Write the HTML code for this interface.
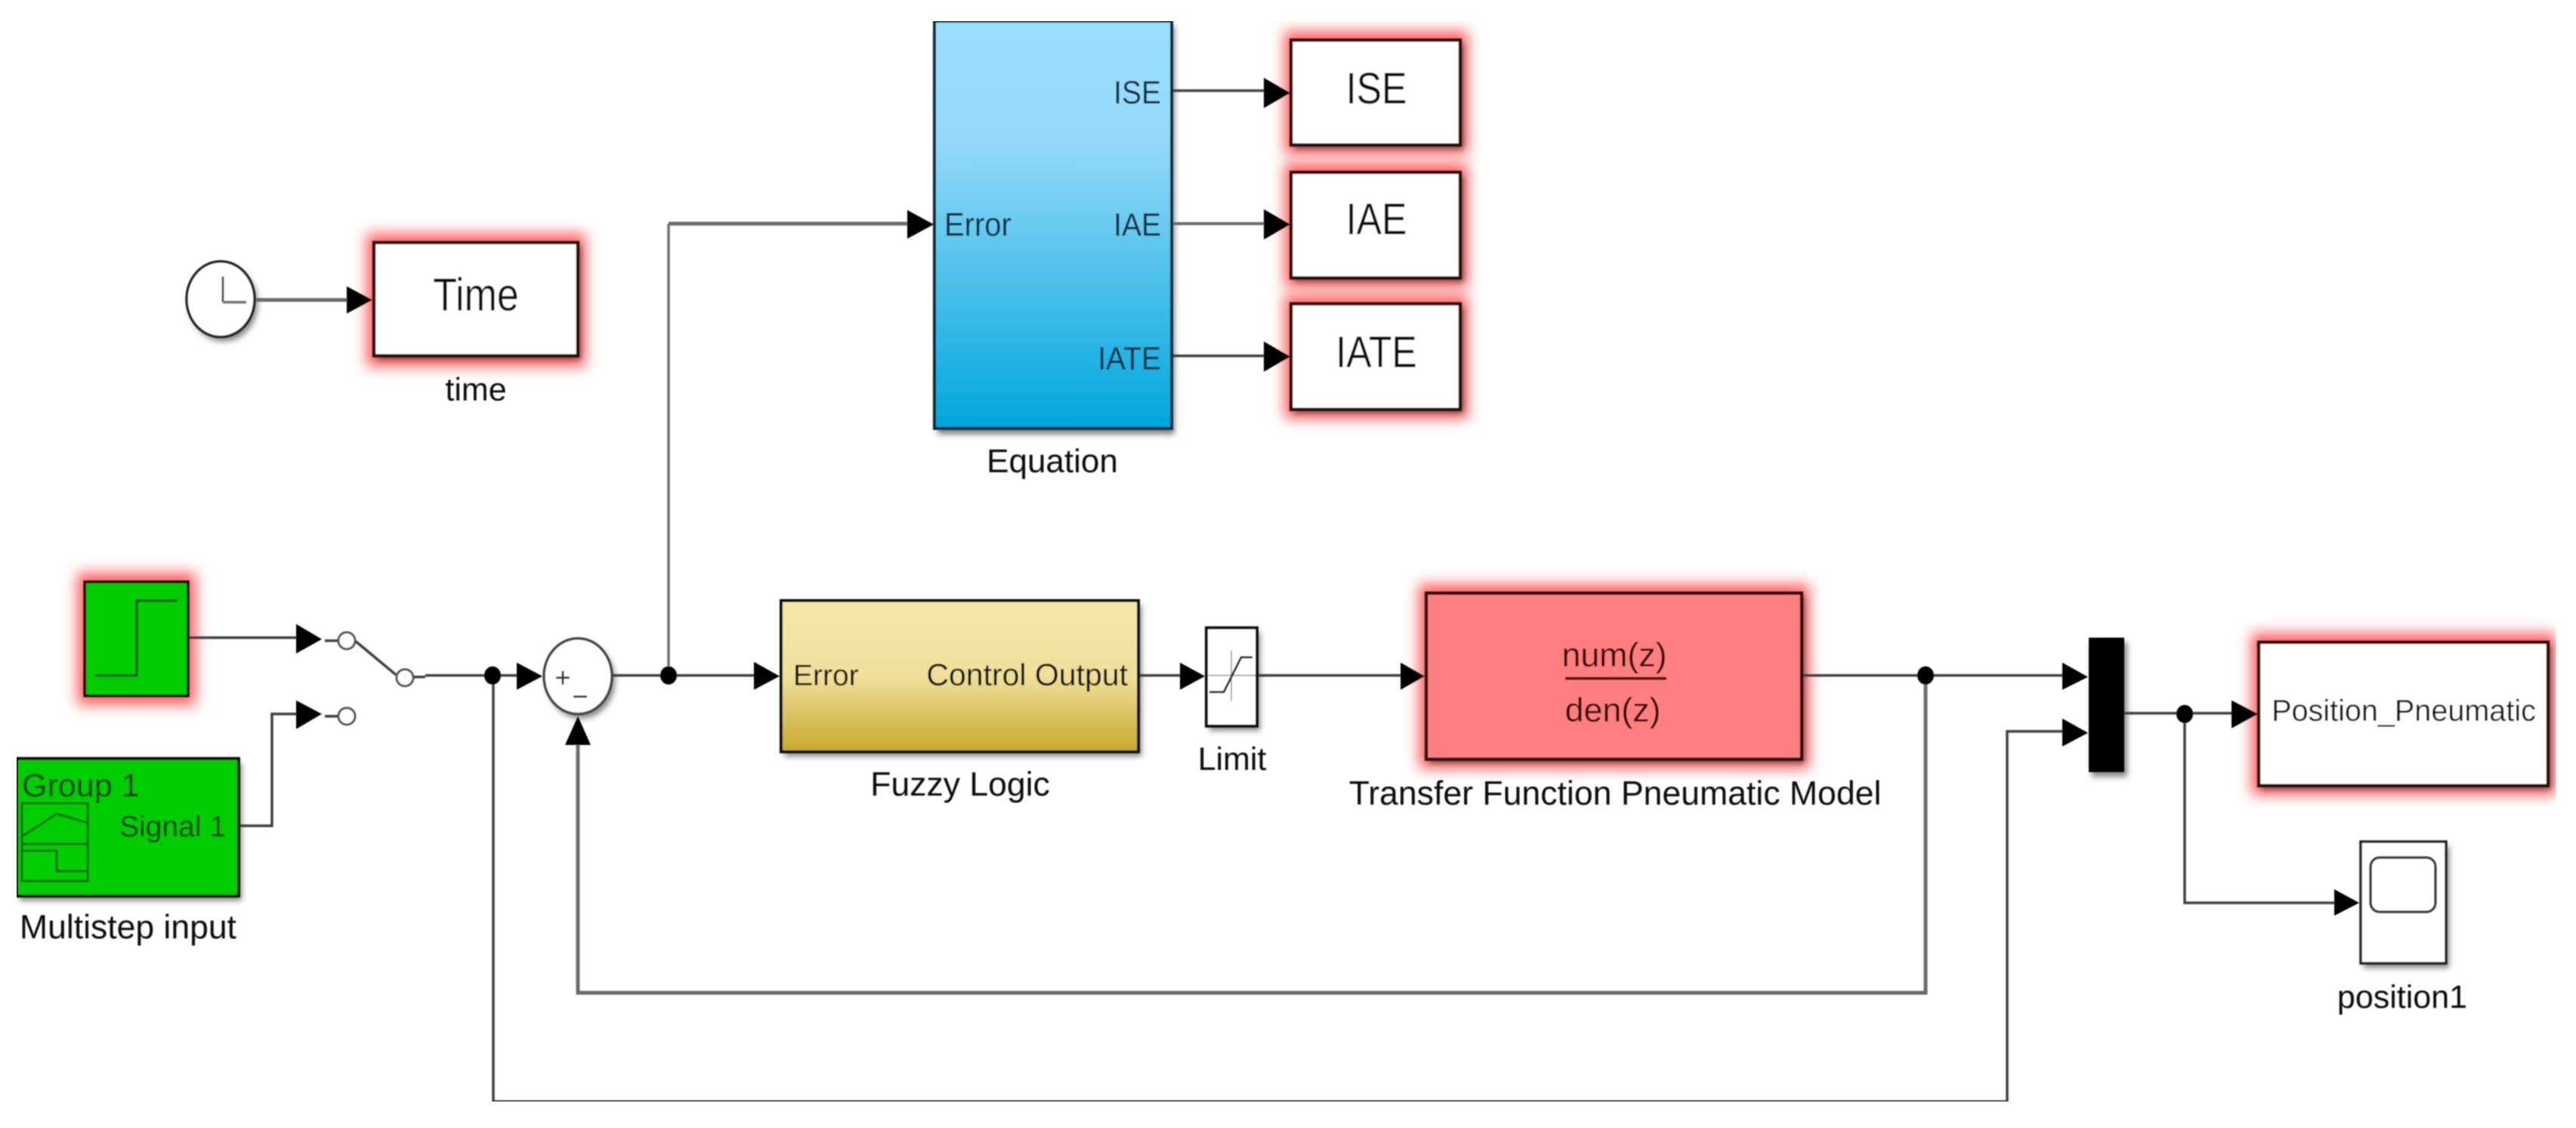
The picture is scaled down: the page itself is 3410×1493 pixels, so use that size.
<!DOCTYPE html>
<html>
<head>
<meta charset="utf-8">
<style>
html,body{margin:0;padding:0;background:#fff;width:3410px;height:1493px;overflow:hidden}
svg{display:block}
text{font-family:"Liberation Sans",sans-serif;fill:#0c0c0c}
.l{fill:none;stroke:#404040;stroke-width:3.5}
.t{fill:none;stroke:#6c6c6c;stroke-width:5}
.k{fill:#000;stroke:none}
.g{fill:#ff5f5f;filter:url(#glow)}
.s{fill:#333;opacity:.6;filter:url(#shadow)}
.b{stroke:#111;stroke-width:4}
.r{stroke:#2a0808;stroke-width:4.5}
.c{fill:#fff;stroke:#555;stroke-width:3}
</style>
</head>
<body>
<svg width="3410" height="1493" viewBox="0 0 3410 1493" xmlns="http://www.w3.org/2000/svg">
<defs>
<filter id="glow" x="-30%" y="-30%" width="160%" height="160%"><feGaussianBlur stdDeviation="9"/></filter>
<filter id="shadow" x="-30%" y="-30%" width="160%" height="160%"><feGaussianBlur stdDeviation="4"/></filter>
<filter id="soft" x="0" y="0" width="100%" height="100%"><feGaussianBlur stdDeviation="0.8"/></filter>
<linearGradient id="blue" x1="0" y1="0" x2="0" y2="1"><stop offset="0" stop-color="#9be0ff"/><stop offset=".3" stop-color="#93d8f8"/><stop offset="1" stop-color="#00a6dc"/></linearGradient>
<linearGradient id="gold" x1="0" y1="0" x2="0" y2="1"><stop offset="0" stop-color="#f5e8aa"/><stop offset=".5" stop-color="#efdf9a"/><stop offset="1" stop-color="#c8a82c"/></linearGradient>
</defs>
<rect width="3410" height="1493" fill="#fff"/>
<g filter="url(#soft)">

<!-- glows and shadows -->
<rect class="g" x="102" y="758" width="157" height="175"/>
<rect class="g" x="485" y="309" width="290" height="176"/>
<rect class="g" x="1700" y="41" width="243" height="163"/>
<rect class="g" x="1700" y="216" width="243" height="164"/>
<rect class="g" x="1700" y="390" width="243" height="164"/>
<rect class="g" x="1878" y="773" width="517" height="244"/>
<rect class="g" x="2980" y="838" width="403" height="214"/>
<rect class="s" x="26" y="1010" width="294" height="182"/>
<rect class="s" x="1241" y="34" width="314" height="541"/>
<rect class="s" x="1038" y="801" width="473" height="200"/>
<rect class="s" x="1601" y="837" width="67" height="130"/>
<rect class="s" x="2769" y="850" width="47" height="178"/>
<rect class="s" x="3129" y="1120" width="113" height="161"/>
<rect class="s" x="1714" y="58" width="224" height="139"/>
<rect class="s" x="1714" y="233" width="224" height="140"/>
<rect class="s" x="1714" y="407" width="224" height="140"/>
<rect class="s" x="499" y="326" width="270" height="150"/>
<rect class="s" x="1892" y="790" width="497" height="220"/>
<rect class="s" x="2994" y="855" width="383" height="190"/>
<ellipse class="s" cx="769" cy="901" rx="45" ry="50"/>
<ellipse class="s" cx="296" cy="402" rx="45" ry="50"/>

<!-- connectors -->
<path class="l" d="M249 844H395"/>
<path class="l" d="M430 848H448"/>
<path class="l" d="M471 849L524 893"/>
<path class="l" d="M548 896H563"/>
<path class="l" d="M430 948H448"/>
<path class="l" d="M563 894H686"/>
<path class="l" d="M317 1093H360V945H395"/>
<path class="l" d="M653 894V1458H2657V968H2733"/>
<path class="t" d="M765 985V1314H2549V894"/>
<path class="l" d="M810 894H1000"/>
<path class="l" style="stroke:#707070" d="M885 894V296"/>
<path class="t" d="M885 296H1204"/>
<path class="t" d="M339 397H462"/>
<path class="l" d="M1552 120H1677"/>
<path class="t" style="stroke-width:4" d="M1552 296H1677"/>
<path class="l" d="M1552 471H1677"/>
<path class="l" d="M1507 894H1565"/>
<path class="l" d="M1664 894H1857"/>
<path class="l" d="M2385 894H2733"/>
<path class="l" d="M2812 944H2957"/>
<path class="l" d="M2892 945V1195H3093"/>

<!-- arrowheads -->
<path class="k" d="M392 826L426 846L392 865Z"/>
<path class="k" d="M392 927L426 945L392 965Z"/>
<path class="k" d="M684 877L718 895L684 913Z"/>
<path class="k" d="M748 986L765 948L782 986Z"/>
<path class="k" d="M998 876L1032 895L998 913Z"/>
<path class="k" d="M1201 278L1236 297L1201 316Z"/>
<path class="k" d="M459 379L493 397L459 415Z"/>
<path class="k" d="M1673 103L1708 123L1673 143Z"/>
<path class="k" d="M1673 277L1708 297L1673 317Z"/>
<path class="k" d="M1673 452L1708 472L1673 492Z"/>
<path class="k" d="M1562 877L1595 895L1562 913Z"/>
<path class="k" d="M1854 877L1886 895L1854 913Z"/>
<path class="k" d="M2730 877L2764 896L2730 913Z"/>
<path class="k" d="M2730 951L2764 970L2730 988Z"/>
<path class="k" d="M2954 927L2989 945L2954 964Z"/>
<path class="k" d="M3090 1177L3123 1195L3090 1212Z"/>

<!-- dots -->
<ellipse class="k" cx="652" cy="894" rx="11" ry="12"/>
<ellipse class="k" cx="885" cy="894" rx="11" ry="12"/>
<ellipse class="k" cx="2549" cy="894" rx="11" ry="12"/>
<ellipse class="k" cx="2892" cy="945" rx="11" ry="12"/>

<!-- switch -->
<circle class="c" cx="459" cy="848" r="11"/>
<circle class="c" cx="536" cy="897" r="11"/>
<circle class="c" cx="459" cy="948" r="11"/>

<!-- step -->
<rect class="b" x="112" y="770" width="137" height="151" fill="#00cc00"/>
<path d="M126 894H181V795H235" fill="none" stroke="#0a4a0a" stroke-width="3"/>

<!-- signal builder -->
<rect class="b" x="22" y="1004" width="294" height="182" fill="#00cc00"/>
<rect x="29" y="1063" width="87" height="103" fill="none" stroke="#0a5a0a" stroke-width="2.5"/>
<path d="M29 1117H116M29 1107L75 1077L116 1089M29 1126H75V1153H116" fill="none" stroke="#0a5a0a" stroke-width="2.5"/>
<text x="29" y="1054" font-size="43" style="fill:#044004">Group 1</text>
<text x="158" y="1107" font-size="39" style="fill:#044004">Signal 1</text>
<text x="26" y="1242" font-size="44.5">Multistep input</text>

<!-- sum -->
<ellipse cx="765" cy="895" rx="45" ry="50" fill="#fff" stroke="#444" stroke-width="3.5"/>
<path d="M736 897H754M745 888V906M759 922H777" fill="none" stroke="#333" stroke-width="3"/>

<!-- clock -->
<ellipse cx="292" cy="396" rx="45" ry="50" fill="#fff" stroke="#222" stroke-width="3.5"/>
<path d="M295 366V400" fill="none" stroke="#444" stroke-width="3"/>
<path d="M295 400H326" fill="none" stroke="#777" stroke-width="4"/>

<!-- time -->
<rect class="r" x="495" y="321" width="270" height="150" fill="#fff"/>
<text transform="translate(630 411) scale(1 1.17)" font-size="52" text-anchor="middle">Time</text>
<text x="630" y="530" font-size="43" text-anchor="middle">time</text>

<!-- equation -->
<rect x="1237" y="28" width="314" height="539" fill="url(#blue)" stroke="#0d2a3a" stroke-width="4"/>
<text transform="translate(1250 312) scale(1 1.09)" font-size="40" style="fill:#0a2a40">Error</text>
<text transform="translate(1537 137) scale(1 1.09)" font-size="39" text-anchor="end" style="fill:#0a2a40">ISE</text>
<text transform="translate(1537 312) scale(1 1.09)" font-size="39" text-anchor="end" style="fill:#0a2a40">IAE</text>
<text transform="translate(1537 489) scale(1 1.09)" font-size="39" text-anchor="end" style="fill:#0a2a40">IATE</text>
<text x="1393" y="625" font-size="44" text-anchor="middle">Equation</text>

<!-- outputs -->
<rect class="r" x="1709" y="53" width="224" height="139" fill="#fff"/>
<rect class="r" x="1709" y="228" width="224" height="140" fill="#fff"/>
<rect class="r" x="1709" y="402" width="224" height="140" fill="#fff"/>
<text transform="translate(1822 137) scale(1 1.17)" font-size="50" text-anchor="middle">ISE</text>
<text transform="translate(1822 310) scale(1 1.17)" font-size="50" text-anchor="middle">IAE</text>
<text transform="translate(1822 486) scale(1 1.17)" font-size="50" text-anchor="middle">IATE</text>

<!-- fuzzy -->
<rect class="b" x="1034" y="795" width="473" height="200" fill="url(#gold)"/>
<text x="1050" y="907" font-size="39">Error</text>
<text x="1493" y="907" font-size="41" text-anchor="end">Control Output</text>
<text x="1271" y="1053" font-size="44.5" text-anchor="middle">Fuzzy Logic</text>

<!-- limit -->
<rect class="b" x="1597" y="831" width="67" height="130" fill="#fff"/>
<path d="M1630 861V928M1600 894H1662" fill="none" stroke="#aaa" stroke-width="2"/>
<path d="M1601 916H1620L1643 870H1658" fill="none" stroke="#222" stroke-width="3"/>
<text x="1631" y="1019" font-size="43" text-anchor="middle">Limit</text>

<!-- transfer function -->
<rect class="r" x="1888" y="785" width="497" height="220" fill="#ff7f80"/>
<text x="2137" y="882" font-size="44.7" text-anchor="middle" style="fill:#3a0505">num(z)</text>
<path d="M2072 898H2206" stroke="#5a0a0a" stroke-width="4"/>
<text x="2135" y="955" font-size="44.7" text-anchor="middle" style="fill:#3a0505">den(z)</text>
<text x="2138" y="1065" font-size="44.6" text-anchor="middle">Transfer Function Pneumatic Model</text>

<!-- mux -->
<rect x="2765" y="844" width="47" height="178" fill="#000"/>

<!-- position -->
<rect class="r" x="2990" y="850" width="383" height="190" fill="#fff"/>
<text x="3182" y="954" font-size="39.6" text-anchor="middle">Position_Pneumatic</text>

<!-- scope -->
<rect x="3125" y="1114" width="113" height="161" fill="#fff" stroke="#222" stroke-width="3.5"/>
<rect x="3138" y="1135" width="86" height="72" rx="12" ry="12" fill="#fff" stroke="#333" stroke-width="3.5"/>
<text x="3180" y="1334" font-size="43" text-anchor="middle">position1</text>
</g>
</svg>
</body>
</html>
